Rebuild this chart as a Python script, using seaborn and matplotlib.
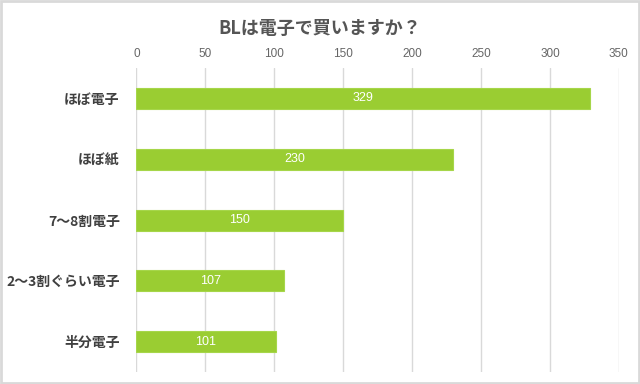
import pandas as pd
import seaborn as sns
import matplotlib.pyplot as plt
from matplotlib.patches import Rectangle

# データ
categories = ['ほぼ電子', 'ほぼ紙', '7〜8割電子', '2〜3割ぐらい電子', '半分電子']
counts = [329, 230, 150, 107, 101]
x_ticks = [0, 50, 100, 150, 200, 250, 300, 350]

df = pd.DataFrame({'category': categories, 'count': counts})

sns.set_theme(style="white")
plt.rcParams['font.family'] = ['Noto Sans CJK JP', 'DejaVu Sans']

fig = plt.figure(figsize=(6.4, 3.84), dpi=100)
ax = fig.add_axes([0.213, 0.031, 0.754, 0.792])

sns.barplot(data=df, x='count', y='category', color='#9acd32', saturation=1,
            width=0.345, ax=ax, edgecolor='#a6d64a', linewidth=0.8, zorder=3)

# 棒の中に値を表示
for container in ax.containers:
    ax.bar_label(container, labels=[str(v) for v in counts], label_type='center',
                 color='white', fontsize=9, family=['Liberation Sans', 'DejaVu Sans'])

ax.set_xlim(0, 350)
ax.set_ylim(4.5, -0.5)
ax.set_xticks(x_ticks)
ax.xaxis.tick_top()
ax.tick_params(axis='x', length=0, pad=6, labelsize=8.5, labelcolor='#666666')
ax.tick_params(axis='y', length=0, pad=12, labelsize=10, labelcolor='#404040')
for lab in ax.get_xticklabels():
    lab.set_family(['Liberation Sans', 'DejaVu Sans'])
for lab in ax.get_yticklabels():
    lab.set_fontweight('bold')
ax.grid(axis='x', color='#d9d9d9', linewidth=1, zorder=0)
ax.set_xlabel('')
ax.set_ylabel('')
for s in ax.spines.values():
    s.set_visible(False)

fig.text(0.5, 0.925, 'BLは電子で買いますか？', ha='center', va='center',
         fontsize=13, fontweight='bold', color='#555555')

# 外枠
fig.patches.append(Rectangle((0.002, 0.003), 0.996, 0.994, transform=fig.transFigure,
                             fill=False, edgecolor='#d9d9d9', linewidth=2))

fig.savefig('out.png', dpi=100)
plt.close()
